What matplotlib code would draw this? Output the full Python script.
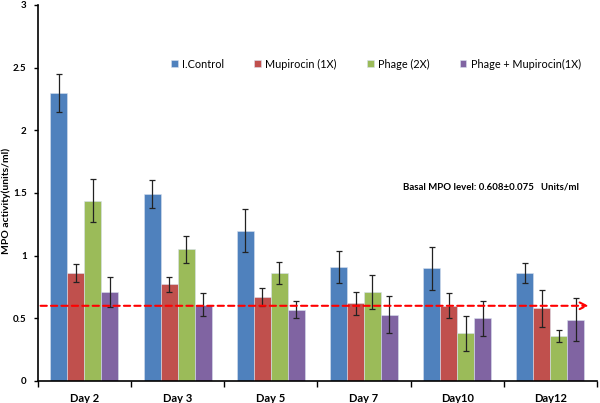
import matplotlib
matplotlib.use("Agg")
import matplotlib.pyplot as plt
import numpy as np

days = ["Day 2", "Day 3", "Day 5", "Day 7", "Day10", "Day12"]
series = ["I.Control", "Mupirocin (1X)", "Phage (2X)", "Phage + Mupirocin(1X)"]
control = [2.30, 1.49, 1.20, 0.91, 0.90, 0.86]
control_err = [0.15, 0.11, 0.17, 0.125, 0.17, 0.08]
mupirocin = [0.86, 0.77, 0.67, 0.62, 0.60, 0.58]
mupirocin_err = [0.07, 0.06, 0.07, 0.09, 0.10, 0.15]
phage = [1.44, 1.05, 0.86, 0.71, 0.38, 0.36]
phage_err = [0.17, 0.11, 0.09, 0.135, 0.14, 0.05]
combo = [0.71, 0.61, 0.57, 0.53, 0.50, 0.49]
combo_err = [0.12, 0.09, 0.07, 0.15, 0.14, 0.17]
basal = 0.6

colors = ["#4F81BD", "#C0504D", "#9BBB59", "#8064A2"]

plt.rcParams['font.family'] = ['Lato', 'DejaVu Sans']

fig = plt.figure(figsize=(6, 4.03), dpi=100)
ax = fig.add_axes([0.063, 0.0546, 0.932, 0.933])

x = np.arange(len(days))
w = 0.182
vals = [control, mupirocin, phage, combo]
errs = [control_err, mupirocin_err, phage_err, combo_err]
for i, (v, e) in enumerate(zip(vals, errs)):
    ax.bar(x + (i - 1.5) * w, v, w, color=colors[i], edgecolor="#d8e0ee", linewidth=0.4,
           yerr=e, error_kw=dict(ecolor="#222222", elinewidth=0.9, capsize=2.5, capthick=0.9),
           label=series[i], zorder=2)

ax.set_xlim(-0.5, 5.5)
ax.set_ylim(0, 3)
ax.set_yticks([0, 0.5, 1, 1.5, 2, 2.5, 3])
ax.set_yticklabels(["0", "0.5", "1", "1.5", "2", "2.5", "3"], fontsize=7, fontweight="bold")
ax.set_xticks(x)
ax.set_xticklabels(days, fontsize=8, fontweight="bold")
ax.tick_params(axis="x", length=0, pad=9)
ax.set_xticks(np.arange(-0.5, 6.0, 1.0), minor=True)
ax.tick_params(axis="x", which="minor", length=4, width=1, direction="out")
ax.tick_params(axis="y", length=3, width=1, direction="out", pad=5)
for s in ["top", "right"]:
    ax.spines[s].set_visible(False)
ax.spines["left"].set_linewidth(1.2)
ax.spines["bottom"].set_linewidth(1.2)

ax.set_ylabel("MPO activity(units/ml)", fontsize=7.5, fontweight="bold")
ax.yaxis.set_label_coords(-0.048, 0.48)

ax.annotate("", xy=(0.99, basal), xycoords=("axes fraction", "data"),
            xytext=(0.0, basal), textcoords=("axes fraction", "data"),
            arrowprops=dict(arrowstyle="->", color="red", lw=1.5, linestyle=(0, (3, 2)),
                            mutation_scale=12), zorder=3)

ax.text(0.653, 0.515, "Basal MPO level: 0.608\u00b10.075   Units/ml", transform=ax.transAxes,
        fontsize=6.9, fontweight="bold", ha="left", va="center")

leg = ax.legend(loc="center", bbox_to_anchor=(0.605, 0.843), ncol=4, frameon=False,
                fontsize=7.8, handlelength=0.6, handleheight=0.6, handletextpad=0.4,
                columnspacing=2.8)

fig.savefig("out.png", dpi=100)
